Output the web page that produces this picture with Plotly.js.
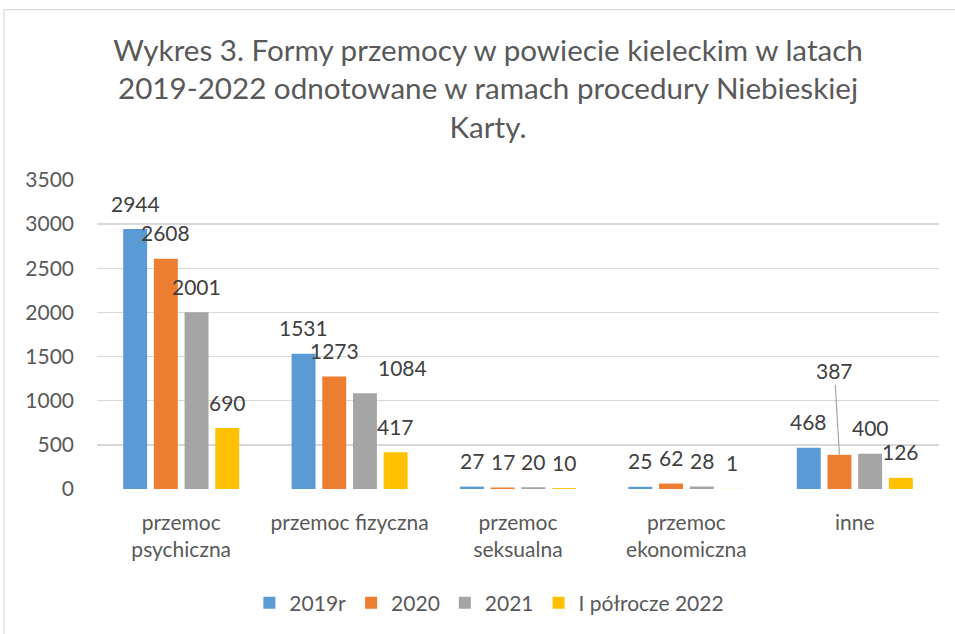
<!DOCTYPE html>
<html>
<head>
<meta charset="utf-8">
<script src="https://cdn.plot.ly/plotly-3.0.1.min.js"></script>
<style>
  html, body { margin: 0; padding: 0; background: #ffffff; }
  #chart { width: 955px; height: 634px; }
</style>
</head>
<body>
<div id="chart"></div>
<script>
// ---- data ----
const categories = ["przemoc<br>psychiczna", "przemoc fizyczna", "przemoc<br>seksualna", "przemoc<br>ekonomiczna", "inne"];
const seriesNames = ["2019r", "2020", "2021", "I półrocze 2022"];
const values2019 = [2944, 1531, 27, 25, 468];
const values2020 = [2608, 1273, 17, 62, 387];
const values2021 = [2001, 1084, 20, 28, 400];
const valuesH2022 = [690, 417, 10, 1, 126];
const yTicks = [0, 500, 1000, 1500, 2000, 2500, 3000, 3500];

// ---- styles ----
const colors = ["#5B9BD5", "#ED7D31", "#A5A5A5", "#FFC000"];
const FONT = "Lato, 'Open Sans', sans-serif";
const TXT = "#595959";
const FS = 21;
const allSeries = [values2019, values2020, values2021, valuesH2022];

const traces = allSeries.map((vals, i) => ({
  type: "bar",
  name: seriesNames[i],
  x: categories,
  y: vals,
  marker: { color: colors[i] },
  hoverinfo: "skip"
}));

// data label placement (pixel offsets relative to each bar)
const slot = 30.7;
const labelLift = 26;
const manualLabels = {
  "2-1": { xshift: 52.5 },                  // 1084 moved right
  "1-4": { arrow: true, ax: -5, ay: -84 }   // 387 moved up with leader line
};

const annotations = [];
allSeries.forEach((vals, i) => {
  vals.forEach((v, j) => {
    const key = i + "-" + j;
    const m = manualLabels[key];
    const base = {
      x: categories[j], y: v, xref: "x", yref: "y",
      text: String(v),
      font: { family: FONT, size: FS, color: "#404040" },
      xanchor: "center", yanchor: "middle"
    };
    if (m && m.arrow) {
      Object.assign(base, {
        xshift: (i - 1.5) * slot,
        showarrow: true, arrowhead: 0, arrowwidth: 1.2, arrowcolor: "#A6A6A6",
        ax: m.ax, ay: m.ay, standoff: 0, startstandoff: 0
      });
    } else {
      Object.assign(base, {
        showarrow: false,
        xshift: m && m.xshift !== undefined ? m.xshift : (i - 1.5) * slot,
        yshift: labelLift
      });
    }
    annotations.push(base);
  });
});

const layout = {
  width: 955,
  height: 634,
  autosize: false,
  paper_bgcolor: "#ffffff",
  plot_bgcolor: "#ffffff",
  margin: { l: 97, r: 16, t: 180, b: 144, pad: 0 },
  font: { family: FONT, color: TXT, size: FS },
  title: {
    text: "Wykres 3. Formy przemocy w powiecie kieleckim w latach<br>2019-2022 odnotowane w ramach procedury Niebieskiej<br>Karty.",
    font: { family: FONT, size: 29.6, color: TXT },
    x: 0.511, xanchor: "center",
    y: 0.904, yanchor: "top", yref: "container"
  },
  barmode: "group",
  bargap: 0.271,
  bargroupgap: 0.22,
  showlegend: true,
  legend: {
    orientation: "h",
    x: 0.466, xanchor: "center",
    y: -0.365, yanchor: "middle",
    font: { family: FONT, size: FS, color: TXT },
    traceorder: "normal"
  },
  xaxis: {
    type: "category",
    tickfont: { family: FONT, size: FS, color: TXT },
    showline: false,
    showgrid: false,
    ticks: "",
    ticklabelstandoff: 19,
    fixedrange: true
  },
  yaxis: {
    range: [0, 3500],
    tickvals: yTicks,
    ticktext: yTicks.map(String),
    showgrid: true,
    gridcolor: "#D9D9D9",
    gridwidth: 1.3,
    zeroline: false,
    showline: false,
    ticks: "",
    ticklabelstandoff: 22,
    tickfont: { family: FONT, size: FS, color: TXT },
    fixedrange: true
  },
  annotations: annotations,
  shapes: [{
    type: "rect", xref: "paper", yref: "paper",
    x0: (4 - 97) / 842, x1: 1.2,
    y0: -0.6, y1: (490 - 9) / 310,
    line: { color: "#D9D9D9", width: 1.2 },
    fillcolor: "rgba(0,0,0,0)",
    layer: "below"
  }]
};

Plotly.newPlot("chart", traces, layout, { displayModeBar: false, staticPlot: true });
</script>
</body>
</html>
